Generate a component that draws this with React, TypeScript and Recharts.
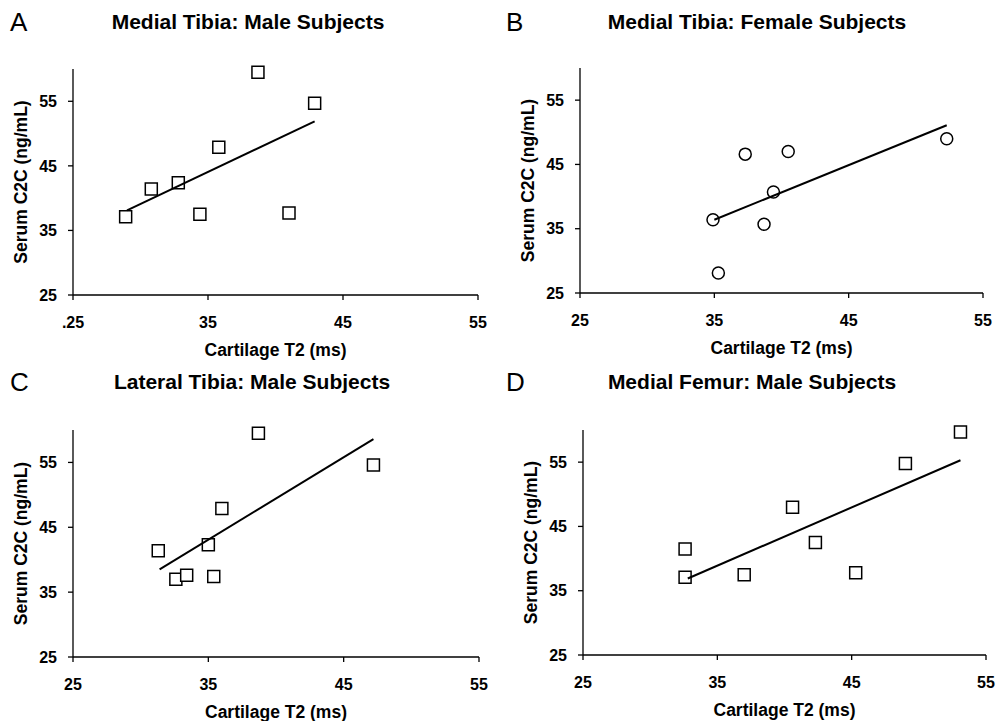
import { ScatterChart, Scatter, XAxis, YAxis, Label, Symbols } from 'recharts';

const xTicks = [25, 35, 45, 55];
const yTicks = [25, 35, 45, 55];

// A: medial tibia, male
const medTibMaleT2 = [28.9, 30.8, 32.8, 34.4, 35.8, 38.7, 41.0, 42.9];
const medTibMaleC2C = [37.1, 41.4, 42.4, 37.5, 47.9, 59.5, 37.7, 54.7];
const medTibMaleFitT2 = [29.0, 42.9];
const medTibMaleFitC2C = [38.1, 51.9];

// B: medial tibia, female
const medTibFemaleT2 = [34.9, 35.3, 37.3, 38.7, 39.4, 40.5, 52.3];
const medTibFemaleC2C = [36.4, 28.1, 46.6, 35.7, 40.7, 47.0, 49.0];
const medTibFemaleFitT2 = [35.0, 52.3];
const medTibFemaleFitC2C = [36.4, 51.1];

// C: lateral tibia, male
const latTibMaleT2 = [31.3, 32.6, 33.4, 35.0, 35.4, 36.0, 38.7, 47.2];
const latTibMaleC2C = [41.4, 37.0, 37.6, 42.3, 37.4, 47.9, 59.5, 54.6];
const latTibMaleFitT2 = [31.4, 47.2];
const latTibMaleFitC2C = [38.5, 58.6];

// D: medial femur, male
const medFemMaleT2 = [32.6, 32.6, 37.0, 40.6, 42.3, 45.3, 49.0, 53.1];
const medFemMaleC2C = [41.5, 37.1, 37.5, 48.0, 42.5, 37.8, 54.8, 59.7];
const medFemMaleFitT2 = [32.8, 53.1];
const medFemMaleFitC2C = [36.9, 55.3];

const FONT = 'Arial, "Liberation Sans", sans-serif';

const toPoints = (xs: number[], ys: number[]) => xs.map((x, i) => ({ x, y: ys[i] }));

interface PanelProps {
  letter: string;
  title: string;
  t2: number[];
  c2c: number[];
  fitT2: number[];
  fitC2C: number[];
  shape: 'square' | 'circle';
  left: number;
  top: number;
  width: number;
  height: number;
  margin: { top: number; right: number; bottom: number; left: number };
  titleX: number;
  firstTick?: string;
}

function Panel(p: PanelProps) {
  const data = toPoints(p.t2, p.c2c);
  const fit = toPoints(p.fitT2, p.fitC2C);
  const tickStyle = { fill: '#000', fontSize: 16, fontWeight: 700, fontFamily: FONT };
  // marker area in px^2: ~12px squares, ~12px circles
  const markerSize = p.shape === 'square' ? 144 : 113;

  const renderMarker = (props: any) => (
    <Symbols
      cx={props.cx}
      cy={props.cy}
      type={p.shape}
      size={markerSize}
      fill="#fff"
      stroke="#000"
      strokeWidth={1.5}
    />
  );

  return (
    <div style={{ position: 'absolute', left: p.left, top: p.top, width: p.width, height: p.height }}>
      <div style={{ position: 'absolute', left: 10, top: 7, fontFamily: FONT, fontSize: 26, color: '#000' }}>
        {p.letter}
      </div>
      <div
        style={{
          position: 'absolute',
          left: p.titleX,
          top: 10,
          transform: 'translateX(-50%)',
          whiteSpace: 'nowrap',
          fontFamily: FONT,
          fontSize: 21,
          fontWeight: 700,
          color: '#000',
        }}
      >
        {p.title}
      </div>
      <ScatterChart width={p.width} height={p.height} margin={p.margin} style={{ position: 'absolute', left: 0, top: 0 }}>
        <XAxis
          type="number"
          dataKey="x"
          domain={[25, 55]}
          ticks={xTicks}
          height={60}
          tick={tickStyle}
          tickSize={5}
          tickMargin={17}
          tickFormatter={(v: number) => (v === 25 && p.firstTick ? p.firstTick : String(v))}
          axisLine={{ stroke: '#000', strokeWidth: 1.3 }}
          tickLine={{ stroke: '#000', strokeWidth: 1.3 }}
        >
          <Label
            content={({ viewBox }: any) => (
              <text
                x={viewBox.x + viewBox.width / 2}
                y={viewBox.y + 61}
                textAnchor="middle"
                fontFamily={FONT}
                fontSize={17.5}
                fontWeight={700}
                fill="#000"
              >
                Cartilage T2 (ms)
              </text>
            )}
          />
        </XAxis>
        <YAxis
          type="number"
          dataKey="y"
          domain={[25, 60]}
          ticks={yTicks}
          width={60}
          tick={tickStyle}
          tickSize={5}
          tickMargin={11}
          axisLine={{ stroke: '#000', strokeWidth: 1.3 }}
          tickLine={{ stroke: '#000', strokeWidth: 1.3 }}
        >
          <Label
            content={({ viewBox }: any) => {
              const cx = viewBox.x + viewBox.width - 52 + 6;
              const cy = viewBox.y + viewBox.height / 2;
              return (
                <text
                  x={cx}
                  y={cy}
                  transform={`rotate(-90, ${cx}, ${cy})`}
                  textAnchor="middle"
                  fontFamily={FONT}
                  fontSize={17.5}
                  fontWeight={700}
                  fill="#000"
                >
                  Serum C2C (ng/mL)
                </text>
              );
            }}
          />
        </YAxis>
        <Scatter data={data} shape={renderMarker} isAnimationActive={false} />
        {/* regression line drawn after the markers so it sits on top */}
        <Scatter
          data={fit}
          line={{ stroke: '#000', strokeWidth: 2 }}
          shape={() => <g />}
          isAnimationActive={false}
        />
      </ScatterChart>
    </div>
  );
}

export default function App() {
  return (
    <div style={{ position: 'absolute', left: 0, top: 0, width: 996, height: 721, background: '#fff', overflow: 'hidden' }}>
      <Panel
        letter="A"
        title="Medial Tibia: Male Subjects"
        t2={medTibMaleT2}
        c2c={medTibMaleC2C}
        fitT2={medTibMaleFitT2}
        fitC2C={medTibMaleFitC2C}
        shape="square"
        left={0}
        top={0}
        width={496}
        height={360}
        margin={{ top: 69, right: 18, bottom: 5, left: 13 }}
        titleX={248}
        firstTick=".25"
      />
      <Panel
        letter="B"
        title="Medial Tibia: Female Subjects"
        t2={medTibFemaleT2}
        c2c={medTibFemaleC2C}
        fitT2={medTibFemaleFitT2}
        fitC2C={medTibFemaleFitC2C}
        shape="circle"
        left={496}
        top={0}
        width={500}
        height={360}
        margin={{ top: 68, right: 13, bottom: 7, left: 24 }}
        titleX={261}
      />
      <Panel
        letter="C"
        title="Lateral Tibia: Male Subjects"
        t2={latTibMaleT2}
        c2c={latTibMaleC2C}
        fitT2={latTibMaleFitT2}
        fitC2C={latTibMaleFitC2C}
        shape="square"
        left={0}
        top={360}
        width={496}
        height={361}
        margin={{ top: 70, right: 17, bottom: 4, left: 13 }}
        titleX={252}
      />
      <Panel
        letter="D"
        title="Medial Femur: Male Subjects"
        t2={medFemMaleT2}
        c2c={medFemMaleC2C}
        fitT2={medFemMaleFitT2}
        fitC2C={medFemMaleFitC2C}
        shape="square"
        left={496}
        top={360}
        width={500}
        height={361}
        margin={{ top: 70, right: 10, bottom: 6, left: 27 }}
        titleX={256}
      />
    </div>
  );
}
